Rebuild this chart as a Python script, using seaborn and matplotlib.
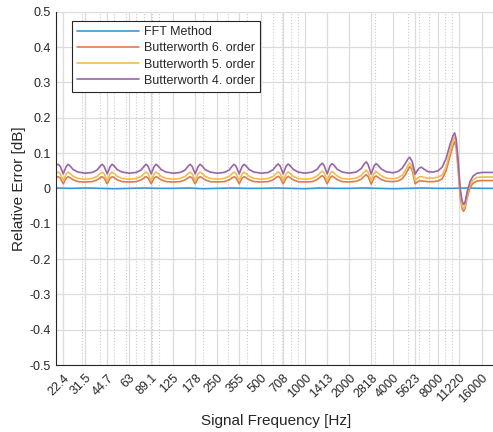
import numpy as np
import pandas as pd
import matplotlib
matplotlib.use("Agg")
import matplotlib.pyplot as plt
import matplotlib.transforms as mtransforms
import seaborn as sns
from matplotlib.ticker import FixedLocator, LogLocator, NullFormatter

# ---------------- data ----------------
tick_values = [22.4, 31.5, 44.7, 63, 89.1, 125, 178, 250, 355, 500, 708, 1000,
               1413, 2000, 2818, 4000, 5623, 8000, 11220, 16000]
tick_labels = ["22.4", "31.5", "44.7", "63", "89.1", "125", "178", "250", "355",
               "500", "708", "1000", "1413", "2000", "2818", "4000", "5623",
               "8000", "11220", "16000"]

series_names = ["FFT Method", "Butterworth 6. order",
                "Butterworth 5. order", "Butterworth 4. order"]

fft_freq = [20, 25, 32, 40, 50, 63, 80, 100, 125, 160, 200, 250, 315, 400, 500,
            630, 800, 1000, 1250, 1600, 2000, 2500, 3150, 4000, 5000, 6300,
            8000, 10000, 12500, 16000, 20000]
fft_err = [0.001, 0.000, 0.001, 0.000, -0.001, 0.000, 0.001, 0.000, 0.000,
           0.001, -0.001, 0.000, 0.001, 0.000, 0.000, 0.001, 0.000, -0.001,
           0.001, 0.000, 0.000, 0.001, 0.000, -0.001, 0.000, 0.001, 0.000,
           0.000, 0.001, 0.000, 0.000]

bw_freq = [
    20.0, 20.7, 21.4, 22.4, 23.5, 24.2, 25.0, 26.2, 28.3, 31.6,
    35.3, 38.2, 40.0, 41.3, 42.6, 44.7, 46.8, 48.3, 49.9, 52.3, 56.5, 63.1,
    70.4, 76.2, 79.9, 82.4, 85.0, 89.1, 93.4, 96.3, 99.5, 104.3, 112.7, 125.9,
    140.5, 152.0, 159.3, 164.5, 169.6, 177.8, 186.3, 192.2, 198.5, 208.0, 224.9, 251.2,
    280.3, 303.4, 317.9, 328.2, 338.5, 354.8, 371.8, 383.5, 396.0, 415.1, 448.8, 501.2,
    559.3, 605.3, 634.3, 654.8, 675.3, 707.9, 741.9, 765.2, 790.0, 828.2, 895.5, 1000,
    1116, 1208, 1266, 1307, 1348, 1412, 1480, 1527, 1576, 1653, 1787, 1995,
    2227, 2410, 2525, 2608, 2689, 2818, 2954, 3047, 3145, 3298, 3565, 3981,
    4307, 4586, 4808, 5038, 5159, 5364, 5493, 5623, 5803, 5988, 6180, 6476,
    6894, 7459, 8069, 8589, 9143, 9733, 10206, 10448, 10700, 11040, 11393,
    11752, 12033, 12320, 12714, 13321, 13968, 14873, 16083, 20000]

bw6_err = [
    0.031, 0.033, 0.029, 0.013, 0.029, 0.033, 0.030, 0.024, 0.019, 0.018,
    0.019, 0.024, 0.030, 0.033, 0.029, 0.013, 0.029, 0.033, 0.030, 0.024, 0.019, 0.018,
    0.019, 0.024, 0.030, 0.033, 0.029, 0.013, 0.029, 0.033, 0.030, 0.024, 0.019, 0.018,
    0.019, 0.024, 0.030, 0.033, 0.029, 0.013, 0.029, 0.033, 0.030, 0.024, 0.019, 0.018,
    0.019, 0.024, 0.030, 0.033, 0.029, 0.013, 0.029, 0.033, 0.030, 0.024, 0.019, 0.018,
    0.019, 0.024, 0.031, 0.034, 0.030, 0.013, 0.029, 0.034, 0.030, 0.024, 0.019, 0.018,
    0.019, 0.025, 0.032, 0.036, 0.031, 0.013, 0.030, 0.035, 0.031, 0.025, 0.019, 0.018,
    0.020, 0.026, 0.034, 0.039, 0.033, 0.012, 0.031, 0.035, 0.031, 0.025, 0.020, 0.019,
    0.021, 0.027, 0.038, 0.054, 0.062, 0.052, 0.032, 0.013, 0.018, 0.021, 0.021, 0.020,
    0.019, 0.019, 0.021, 0.027, 0.050, 0.092, 0.123, 0.132, 0.116, 0.054, -0.022,
    -0.058, -0.065, -0.056, -0.026, 0.002, 0.015, 0.021, 0.022, 0.022]

bw5_err = [
    0.044, 0.046, 0.041, 0.022, 0.041, 0.046, 0.042, 0.034, 0.028, 0.026,
    0.028, 0.034, 0.042, 0.046, 0.041, 0.022, 0.041, 0.046, 0.042, 0.034, 0.028, 0.026,
    0.028, 0.034, 0.042, 0.046, 0.041, 0.022, 0.041, 0.046, 0.042, 0.034, 0.028, 0.026,
    0.028, 0.034, 0.042, 0.046, 0.041, 0.022, 0.041, 0.046, 0.042, 0.034, 0.028, 0.026,
    0.028, 0.034, 0.042, 0.046, 0.041, 0.022, 0.041, 0.046, 0.042, 0.034, 0.028, 0.026,
    0.028, 0.034, 0.042, 0.047, 0.042, 0.022, 0.041, 0.047, 0.042, 0.034, 0.028, 0.026,
    0.028, 0.035, 0.044, 0.049, 0.043, 0.022, 0.042, 0.048, 0.043, 0.035, 0.028, 0.026,
    0.029, 0.036, 0.046, 0.052, 0.045, 0.021, 0.043, 0.048, 0.043, 0.036, 0.029, 0.027,
    0.030, 0.037, 0.050, 0.066, 0.072, 0.062, 0.042, 0.022, 0.028, 0.032, 0.033, 0.031,
    0.029, 0.029, 0.032, 0.038, 0.062, 0.105, 0.136, 0.145, 0.128, 0.066, -0.012,
    -0.050, -0.058, -0.048, -0.018, 0.010, 0.024, 0.031, 0.032, 0.032]

bw4_err = [
    0.066, 0.068, 0.062, 0.041, 0.062, 0.068, 0.063, 0.053, 0.046, 0.043,
    0.045, 0.052, 0.063, 0.068, 0.062, 0.041, 0.062, 0.068, 0.063, 0.053, 0.046, 0.043,
    0.045, 0.052, 0.063, 0.068, 0.062, 0.041, 0.062, 0.068, 0.063, 0.053, 0.046, 0.043,
    0.045, 0.052, 0.063, 0.068, 0.062, 0.041, 0.062, 0.068, 0.063, 0.053, 0.046, 0.043,
    0.045, 0.052, 0.063, 0.068, 0.062, 0.041, 0.062, 0.068, 0.063, 0.053, 0.046, 0.043,
    0.045, 0.053, 0.064, 0.069, 0.063, 0.041, 0.063, 0.069, 0.064, 0.054, 0.046, 0.043,
    0.046, 0.054, 0.066, 0.071, 0.064, 0.041, 0.064, 0.070, 0.065, 0.054, 0.046, 0.043,
    0.046, 0.056, 0.069, 0.075, 0.067, 0.040, 0.064, 0.070, 0.065, 0.055, 0.047, 0.044,
    0.048, 0.057, 0.070, 0.084, 0.088, 0.076, 0.058, 0.040, 0.050, 0.057, 0.060, 0.054,
    0.047, 0.046, 0.050, 0.060, 0.085, 0.125, 0.150, 0.157, 0.140, 0.080, 0.000,
    -0.036, -0.046, -0.038, -0.010, 0.020, 0.035, 0.043, 0.045, 0.045]

colors = ["#3f97d6", "#e07c4c", "#efbd50", "#9a63aa"]

# ---------------- build table ----------------
frames = [pd.DataFrame({"freq": fft_freq, "err": fft_err, "method": series_names[0]}),
          pd.DataFrame({"freq": bw_freq, "err": bw6_err, "method": series_names[1]}),
          pd.DataFrame({"freq": bw_freq, "err": bw5_err, "method": series_names[2]}),
          pd.DataFrame({"freq": bw_freq, "err": bw4_err, "method": series_names[3]})]
df = pd.concat(frames, ignore_index=True)

# ---------------- plot ----------------
sns.set_style("white")
plt.rcParams["font.family"] = ["Liberation Sans", "DejaVu Sans"]

W, H = 493, 432
fig = plt.figure(figsize=(W / 100, H / 100), dpi=100)
ax = fig.add_axes([56 / W, 1 - 365 / H, 440 / W, (365 - 11.7) / H])
ax.set_xscale("log")

sns.lineplot(data=df, x="freq", y="err", hue="method", hue_order=series_names,
             palette=colors, sort=False, estimator=None, legend=False,
             linewidth=1.2, ax=ax)

ax.set_xlim(20, 20000)
ax.set_ylim(-0.5, 0.5)

ax.xaxis.set_major_locator(FixedLocator(tick_values))
ax.xaxis.set_minor_locator(LogLocator(base=10, subs=np.arange(1, 10)))
ax.xaxis.set_minor_formatter(NullFormatter())
ax.set_xticks(tick_values)
ax.set_xticklabels(tick_labels, rotation=45, ha="right", va="top",
                   rotation_mode="anchor", fontsize=9, color="#262626")
shift = mtransforms.ScaledTranslation(3 / 100, 0, fig.dpi_scale_trans)
for lab in ax.get_xticklabels():
    lab.set_transform(lab.get_transform() + shift)

ax.set_yticks(np.round(np.arange(-0.5, 0.51, 0.1), 1))
ax.set_yticklabels(["-0.5", "-0.4", "-0.3", "-0.2", "-0.1", "0", "0.1", "0.2",
                    "0.3", "0.4", "0.5"], fontsize=9, color="#262626")

ax.tick_params(axis="both", which="major", direction="in", length=3.5,
               width=0.7, color="#262626", pad=4)
ax.tick_params(axis="x", which="minor", direction="in", length=2,
               width=0.5, color="#262626")
ax.tick_params(axis="x", which="major", pad=5)

ax.grid(which="major", color="#dcdcdc", linewidth=0.9, linestyle="-")
ax.grid(which="minor", axis="x", color="#cccccc", linewidth=0.8, linestyle=":")
ax.set_axisbelow(True)

for side in ["top", "right"]:
    ax.spines[side].set_visible(False)
for side in ["left", "bottom"]:
    ax.spines[side].set_color("#262626")
    ax.spines[side].set_linewidth(0.8)

ax.set_xlabel("Signal Frequency [Hz]", fontsize=11, color="#262626", labelpad=6)
ax.set_ylabel("Relative Error [dB]", fontsize=11, color="#262626", labelpad=2)

handles = ax.get_lines()[:4]
leg = ax.legend(handles, series_names, loc="upper left",
                bbox_to_anchor=(71.7 / W, 1 - 20.7 / H),
                bbox_transform=fig.transFigure, borderaxespad=0,
                fontsize=9, frameon=True, fancybox=False, framealpha=1,
                edgecolor="#262626", handlelength=4.9, handletextpad=0.4,
                labelspacing=0.33, borderpad=0.45)
leg.get_frame().set_linewidth(0.8)
for t in leg.get_texts():
    t.set_color("#262626")

fig.savefig("out.png", dpi=100)
